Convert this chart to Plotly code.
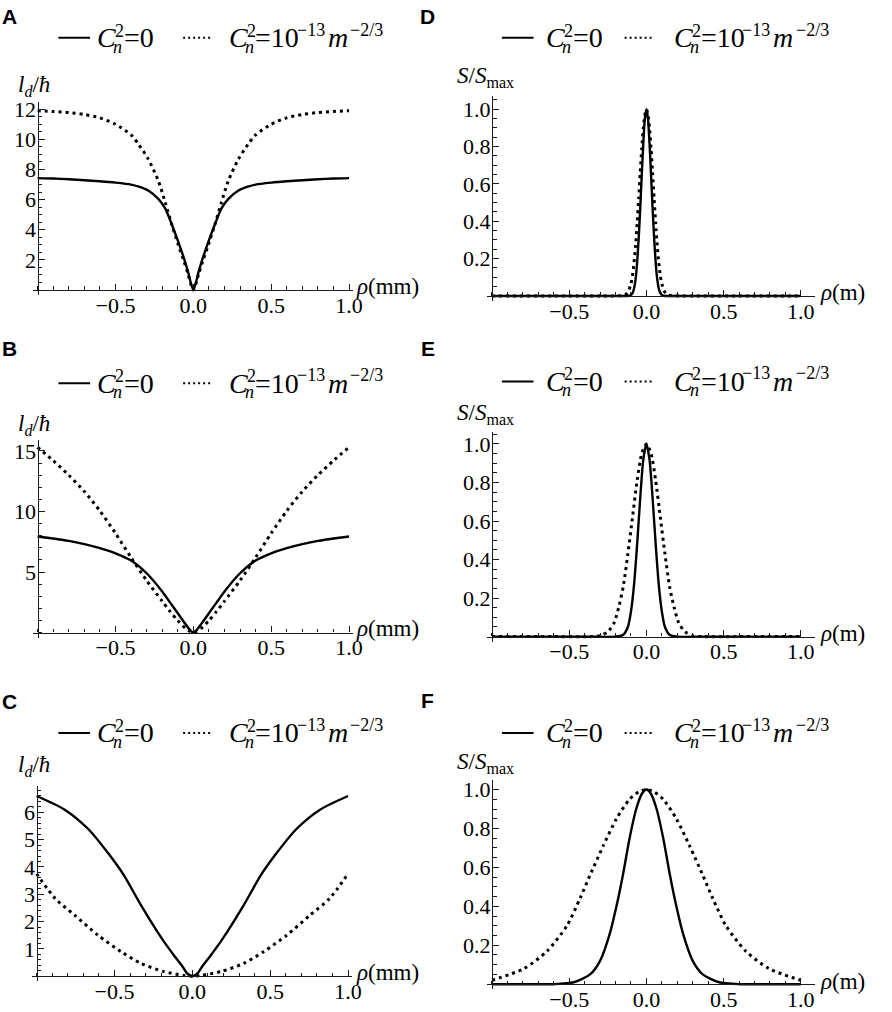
import plotly.graph_objects as go

W, H = 892, 1012
SERIF = "Liberation Serif, Times New Roman, serif"
SANS = "Liberation Sans, Arial, sans-serif"

# ---------------- data (rho >= 0 halves; every curve is symmetric in rho) ----------------
# Panel A  (l_d / hbar vs rho in mm)
A_x = [0, 0.035, 0.06, 0.1, 0.14, 0.18, 0.225, 0.29, 0.35, 0.4, 0.5, 0.6, 0.7, 0.8, 0.9, 1.0]
A_solid = [0, 1.25, 2.1, 3.3, 4.4, 5.4, 6.05, 6.6, 6.86, 7.0, 7.13, 7.22, 7.29, 7.35, 7.4, 7.43]
A_dot = [0, 1.1, 1.9, 3.1, 4.4, 5.8, 7.26, 8.7, 9.65, 10.3, 11.0, 11.43, 11.65, 11.78, 11.85, 11.9]

# Panel B
B_x = [0, 0.02, 0.05, 0.1, 0.15, 0.2, 0.3, 0.4, 0.5, 0.6, 0.7, 0.8, 0.9, 1.0]
B_solid = [0, 0.2, 0.7, 1.6, 2.5, 3.4, 4.9, 5.95, 6.55, 6.97, 7.3, 7.57, 7.77, 7.93]
B_dot = [0, 0.1, 0.35, 1.0, 1.75, 2.6, 4.3, 6.2, 8.2, 10.05, 11.65, 13.0, 14.2, 15.3]

# Panel C
C_x = [0, 0.033, 0.06, 0.12, 0.18, 0.225, 0.33, 0.44, 0.54, 0.67, 0.82, 1.0]
C_solid = [0, 0.1, 0.33, 0.78, 1.25, 1.63, 2.6, 3.7, 4.5, 5.4, 6.1, 6.6]
C_dot_x = [0, 0.056, 0.183, 0.33, 0.458, 0.606, 0.754, 0.88, 1.0]
C_dot = [0, 0.03, 0.17, 0.47, 0.9, 1.5, 2.23, 2.84, 3.75]

# Panel D  (S / S_max vs rho in m)
D_x = [0, 0.01, 0.02, 0.03, 0.04, 0.05, 0.06, 0.07, 0.08, 0.09, 0.1, 0.12, 0.14, 0.3, 0.6, 1.0]
D_solid = [1, 0.95, 0.82, 0.65, 0.47, 0.31, 0.18, 0.09, 0.04, 0.015, 0.005, 0, 0, 0, 0, 0]
D_dot = [1, 0.97, 0.9, 0.79, 0.66, 0.52, 0.39, 0.27, 0.18, 0.11, 0.065, 0.02, 0.005, 0, 0, 0]

# Panel E
E_x = [0, 0.02, 0.04, 0.06, 0.08, 0.1, 0.12, 0.15, 0.2, 0.4, 0.7, 1.0]
E_solid = [1, 0.92, 0.72, 0.48, 0.27, 0.13, 0.05, 0.01, 0, 0, 0, 0]
E_dot_x = [0, 0.03, 0.06, 0.09, 0.12, 0.15, 0.18, 0.21, 0.25, 0.3, 0.35, 0.6, 1.0]
E_dot = [1, 0.95, 0.81, 0.62, 0.43, 0.26, 0.15, 0.07, 0.025, 0.005, 0, 0, 0]

# Panel F
F_x = [0, 0.03, 0.066, 0.109, 0.15, 0.194, 0.237, 0.3, 0.365, 0.47, 0.6, 0.8, 1.0]
F_solid = [1, 0.977, 0.9, 0.75, 0.57, 0.4, 0.26, 0.12, 0.05, 0.01, 0, 0, 0]
F_dot_x = [0, 0.045, 0.109, 0.194, 0.28, 0.365, 0.43, 0.515, 0.643, 0.793, 1.0]
F_dot = [1, 0.99, 0.95, 0.85, 0.71, 0.56, 0.44, 0.3, 0.17, 0.08, 0.02]

# tick labels
LD_TICKS = {"A": [2, 4, 6, 8, 10, 12], "B": [5, 10, 15], "C": [1, 2, 3, 4, 5, 6]}
S_TICKS = [0.2, 0.4, 0.6, 0.8, 1.0]
X_TICKS = [-0.5, 0.0, 0.5, 1.0]


def mirror(xs, ys):
    X = [-v for v in reversed(xs[1:])] + list(xs)
    Y = list(reversed(ys[1:])) + list(ys)
    return X, Y


def px(x):
    return x / W


def py(y):
    return 1 - y / H


panels = [
    dict(key="A", col=0, xm1=38, xp1=352.6, xend=1.028, y0=287, ys=15.17, yend=12.5,
         ytv=LD_TICKS["A"], minor=0.5, yfmt="d", kind="l",
         solid=(A_x, A_solid), dot=(A_x, A_dot),
         letter=(10, 12), leg=33, ylab=82, xlab=283),
    dict(key="B", col=0, xm1=38, xp1=352.6, xend=1.028, y0=632, ys=12.2, yend=15.9,
         ytv=LD_TICKS["B"], minor=1, yfmt="d", kind="l",
         solid=(B_x, B_solid), dot=(B_x, B_dot),
         letter=(10, 346), leg=381, ylab=423, xlab=628),
    dict(key="C", col=0, xm1=37, xp1=351.6, xend=1.028, y0=978, ys=27.5, yend=6.95,
         ytv=LD_TICKS["C"], minor=0.2, yfmt="d", kind="l",
         solid=(C_x, C_solid), dot=(C_dot_x, C_dot),
         letter=(10, 701), leg=733, ylab=766, xlab=974),
    dict(key="D", col=1, xm1=497, xp1=809, xend=1.09, y0=293, ys=188, yend=1.07,
         ytv=S_TICKS, minor=0.05, yfmt=".1f", kind="s",
         solid=(D_x, D_solid), dot=(D_x, D_dot),
         letter=(432, 12), leg=33, ylab=72, xlab=290),
    dict(key="E", col=1, xm1=497, xp1=809, xend=1.09, y0=636, ys=194, yend=1.06,
         ytv=S_TICKS, minor=0.05, yfmt=".1f", kind="s",
         solid=(E_x, E_solid), dot=(E_dot_x, E_dot),
         letter=(432, 346), leg=379, ylab=412, xlab=633),
    dict(key="F", col=1, xm1=497, xp1=809, xend=1.09, y0=986, ys=196, yend=1.05,
         ytv=S_TICKS, minor=0.05, yfmt=".1f", kind="s",
         solid=(F_x, F_solid), dot=(F_dot_x, F_dot),
         letter=(432, 700), leg=733, ylab=763, xlab=983),
]

fig = go.Figure()
annotations = []
shapes = []

AXCOL = "#1a1a1a"
tickfont = dict(family=SERIF, size=22, color="black")

for i, p in enumerate(panels, start=1):
    s = "" if i == 1 else str(i)
    sx = (p["xp1"] - p["xm1"]) / 2.0
    xstart = -1 - 5.0 / sx
    left = p["xm1"] + (xstart + 1) * sx
    right = p["xm1"] + (p["xend"] + 1) * sx
    ystart = -5.0 / p["ys"]
    bottom = p["y0"] - ystart * p["ys"]
    top = p["y0"] - p["yend"] * p["ys"]

    fig.layout["xaxis" + s] = dict(
        domain=[px(left), px(right)], range=[xstart, p["xend"]],
        anchor="free", position=py(p["y0"]),
        showline=True, linecolor=AXCOL, linewidth=1.3,
        showgrid=False, zeroline=False,
        ticks="inside", ticklen=6, tickwidth=1, tickcolor=AXCOL,
        tickmode="array", tickvals=X_TICKS, tickformat=".1f",
        minor=dict(ticks="inside", ticklen=3.5, tickwidth=1, tickcolor=AXCOL,
                   tickmode="linear", tick0=0, dtick=0.1, showgrid=False),
        tickfont=tickfont, ticklabelstandoff=-5, fixedrange=True,
    )
    fig.layout["yaxis" + s] = dict(
        domain=[py(bottom), py(top)], range=[ystart, p["yend"]],
        anchor="free", position=px(p["xm1"]),
        showline=True, linecolor=AXCOL, linewidth=1.3,
        showgrid=False, zeroline=False,
        ticks="inside", ticklen=6, tickwidth=1, tickcolor=AXCOL,
        tickmode="array", tickvals=p["ytv"], tickformat=p["yfmt"],
        minor=dict(ticks="inside", ticklen=3.5, tickwidth=1, tickcolor=AXCOL,
                   tickmode="linear", tick0=0, dtick=p["minor"], showgrid=False),
        tickfont=tickfont, ticklabelstandoff=-3, fixedrange=True,
    )

    xs_, ys_ = mirror(*p["solid"])
    fig.add_trace(go.Scatter(
        x=xs_, y=ys_, mode="lines", xaxis="x" + s, yaxis="y" + s, showlegend=False,
        line=dict(color="black", width=2.4, shape="spline", smoothing=0.7),
        hoverinfo="skip"))
    xd_, yd_ = mirror(*p["dot"])
    fig.add_trace(go.Scatter(
        x=xd_, y=yd_, mode="lines", xaxis="x" + s, yaxis="y" + s, showlegend=False,
        line=dict(color="black", width=3, dash="3px,4px", shape="spline", smoothing=0.7),
        hoverinfo="skip"))

    off = 0 if p["col"] == 0 else 446
    # panel letter
    annotations.append(dict(
        text="<b>%s</b>" % p["key"], x=px(p["letter"][0]), y=py(p["letter"][1]),
        xref="paper", yref="paper", xanchor="center", yanchor="middle", showarrow=False,
        font=dict(family=SANS, size=21, color="black")))

    # legend
    yc = p["leg"]
    shift = 0 if p["col"] == 0 else 2
    shapes.append(dict(type="line", xref="paper", yref="paper",
                       x0=px(off + 59 + shift), x1=px(off + 91 + shift), y0=py(yc), y1=py(yc),
                       line=dict(color="black", width=2)))
    shapes.append(dict(type="line", xref="paper", yref="paper",
                       x0=px(off + 185), x1=px(off + 214), y0=py(yc), y1=py(yc),
                       line=dict(color="black", width=2, dash="2px,3px")))
    t1 = 0 if p["col"] == 0 else 8
    t2 = 0 if p["col"] == 0 else 4
    pieces = [
        (96 + t1, 0, "<i>C</i>", 28),
        (114 + t1, -7, "2", 18),
        (112 + t1, 9, "<i>n</i>", 18),
        (123 + t1, 0, "=0", 28),
        (229 + t2, 0, "<i>C</i>", 28),
        (247 + t2, -7, "2", 18),
        (245 + t2, 9, "<i>n</i>", 18),
        (256 + t2, 0, "=10", 28),
        (298 + t2, -8, "\u221213", 18),
        (329 + t2, 0, "<i>m</i>", 28),
        (352 + t2, -8, "\u22122/3", 18),
    ]
    for (xl, dy, txt, fs) in pieces:
        annotations.append(dict(
            text=txt, x=px(off + xl), y=py(yc + dy), xref="paper", yref="paper",
            xanchor="left", yanchor="middle", showarrow=False,
            font=dict(family=SERIF, size=fs, color="black")))

    # axis titles
    if p["kind"] == "l":
        ytxt = "<i>l</i><sub><i>d</i></sub>/<i>\u0127</i>"
        annotations.append(dict(text=ytxt, x=px(off + 16), y=py(p["ylab"]), xref="paper", yref="paper",
                                xanchor="left", yanchor="middle", showarrow=False,
                                font=dict(family=SERIF, size=23, color="black")))
        xtxt = "<i>\u03c1</i>(mm)"
        xl0 = off + 358
    else:
        ytxt = "<i>S</i>/<i>S</i><sub>max</sub>"
        annotations.append(dict(text=ytxt, x=px(off + 14), y=py(p["ylab"]), xref="paper", yref="paper",
                                xanchor="left", yanchor="middle", showarrow=False,
                                font=dict(family=SERIF, size=23, color="black")))
        xtxt = "<i>\u03c1</i>(m)"
        xl0 = off + 380
    annotations.append(dict(text=xtxt, x=px(xl0), y=py(p["xlab"]), xref="paper", yref="paper",
                            xanchor="left", yanchor="middle", showarrow=False,
                            font=dict(family=SERIF, size=23, color="black")))

fig.update_layout(
    width=W, height=H, margin=dict(l=0, r=0, t=0, b=0),
    paper_bgcolor="white", plot_bgcolor="white",
    font=dict(family=SERIF, color="black"),
    annotations=annotations, shapes=shapes, showlegend=False,
)

fig.write_html("out.html", config=dict(displayModeBar=False),
               post_script="document.body.style.margin='0px';document.body.style.padding='0px';")
